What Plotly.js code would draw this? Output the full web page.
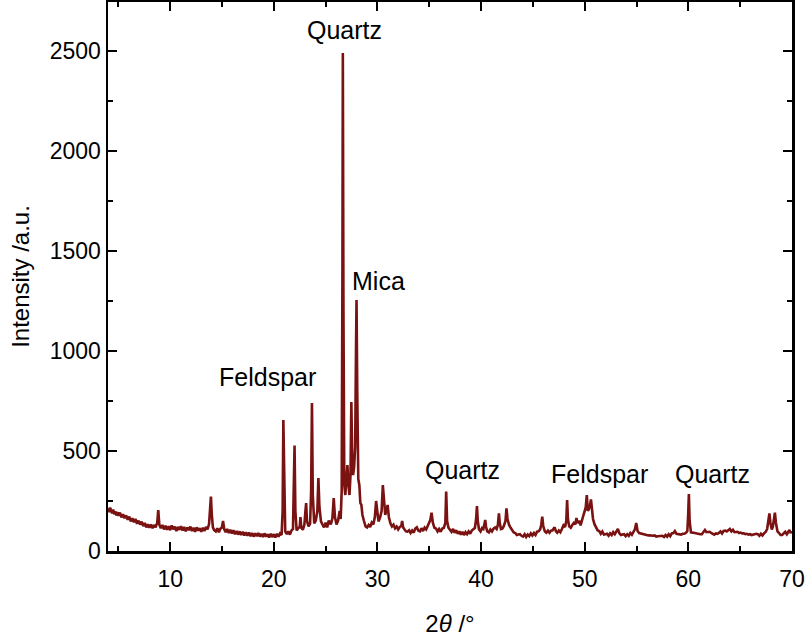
<!DOCTYPE html>
<html>
<head>
<meta charset="utf-8">
<script src="https://cdn.plot.ly/plotly-3.0.1.min.js"></script>
<style>
  body { margin: 0; background: #fff; }
  #graph { width: 807px; height: 637px; }
</style>
</head>
<body>
<div id="graph"></div>
<script>
// XRD pattern, 2theta in degrees
const twoTheta = [
  4.0, 4.1, 4.2, 4.3, 4.4, 4.5, 4.6, 4.7, 4.8, 4.9,
  5.0, 5.15, 5.3, 5.45, 5.6, 5.75, 5.9,
  6.05, 6.2, 6.35, 6.5, 6.65, 6.8, 6.95,
  7.1, 7.25, 7.4, 7.55, 7.7, 7.85, 8.0,
  8.15, 8.3, 8.45, 8.6, 8.75, 8.85, 8.95, 9.1, 9.25,
  9.4, 9.55, 9.7, 9.85,
  10.0, 10.15, 10.3, 10.45, 10.6, 10.75, 10.9,
  11.05, 11.2, 11.35, 11.5, 11.65, 11.8, 11.95,
  12.1, 12.25, 12.4, 12.55, 12.7, 12.85,
  13.0, 13.15, 13.3, 13.45, 13.6, 13.75, 13.85, 13.93, 14.02, 14.12,
  14.25, 14.4, 14.55, 14.7, 14.85, 14.98, 15.1, 15.22,
  15.35, 15.5, 15.65, 15.8, 15.95, 16.1, 16.25, 16.4, 16.55, 16.7, 16.85,
  17.0, 17.15, 17.3, 17.45, 17.6, 17.75, 17.9,
  18.05, 18.2, 18.35, 18.5, 18.65, 18.8, 18.95,
  19.1, 19.25, 19.4, 19.55, 19.7, 19.85,
  20.0, 20.15, 20.3, 20.45, 20.6, 20.75, 20.85, 20.92, 21.0, 21.1,
  21.25, 21.4, 21.55, 21.7, 21.85, 21.93, 22.0, 22.08, 22.2,
  22.35, 22.5, 22.57, 22.65, 22.8, 22.95, 23.05, 23.12, 23.2, 23.35, 23.5, 23.6, 23.68, 23.76, 23.9,
  24.05, 24.2, 24.3, 24.4, 24.55, 24.7, 24.85,
  25.0, 25.15, 25.3, 25.5, 25.65, 25.78, 25.9, 26.05, 26.2, 26.35, 26.45, 26.55, 26.62, 26.66, 26.72, 26.8, 26.9,
  27.0, 27.1, 27.2, 27.3, 27.4, 27.48, 27.56, 27.65, 27.75, 27.85, 27.93, 27.98, 28.05, 28.15, 28.25, 28.35, 28.45, 28.55, 28.7, 28.85,
  29.0, 29.15, 29.3, 29.45, 29.6, 29.75, 29.87, 29.97, 30.1, 30.25, 30.4, 30.52, 30.62, 30.75, 30.85, 30.98, 31.1, 31.25,
  31.4, 31.55, 31.7, 31.85, 32.0, 32.15, 32.3, 32.38, 32.48, 32.6, 32.75, 32.9,
  33.05, 33.2, 33.35, 33.5, 33.65, 33.8, 33.95, 34.1, 34.25, 34.4, 34.55, 34.7, 34.85,
  35.0, 35.1, 35.22, 35.35, 35.5, 35.65, 35.8, 35.95, 36.1, 36.25, 36.4, 36.55, 36.63, 36.72, 36.85,
  37.0, 37.15, 37.3, 37.45, 37.6, 37.75, 37.9,
  38.05, 38.2, 38.35, 38.5, 38.65, 38.8, 38.95,
  39.1, 39.25, 39.4, 39.52, 39.6, 39.68, 39.8, 39.95, 40.1, 40.22, 40.32, 40.4, 40.48, 40.6, 40.75, 40.9,
  41.05, 41.2, 41.35, 41.5, 41.62, 41.72, 41.8, 41.92, 42.05, 42.2, 42.35, 42.45, 42.55, 42.7, 42.85,
  43.0, 43.15, 43.3, 43.45, 43.6, 43.75, 43.9,
  44.05, 44.2, 44.35, 44.5, 44.65, 44.8, 44.95,
  45.1, 45.25, 45.4, 45.55, 45.7, 45.8, 45.9, 46.0, 46.15, 46.3, 46.45, 46.6, 46.75, 46.9,
  47.0, 47.1, 47.22, 47.35, 47.5, 47.65, 47.8, 47.95, 48.1, 48.22, 48.3, 48.38, 48.5, 48.65, 48.8, 48.95,
  49.1, 49.2, 49.3, 49.45, 49.6, 49.75, 49.88, 50.0, 50.1, 50.2, 50.3, 50.4, 50.52, 50.6, 50.7, 50.8, 50.95,
  51.1, 51.25, 51.4, 51.55, 51.7, 51.85, 52.0,
  52.15, 52.3, 52.45, 52.6, 52.75, 52.9, 53.05, 53.2, 53.35, 53.5,
  53.65, 53.8, 53.95, 54.1, 54.25, 54.4, 54.55, 54.7, 54.85, 54.97, 55.1, 55.25,
  55.4, 55.55, 55.7, 55.85, 56.0, 56.15, 56.3, 56.45, 56.6, 56.75, 56.9,
  57.05, 57.2, 57.35, 57.5, 57.65, 57.8, 57.95,
  58.1, 58.25, 58.4, 58.55, 58.7, 58.85, 59.0, 59.15, 59.3, 59.45, 59.6, 59.75,
  59.9, 59.98, 60.05, 60.12, 60.25,
  60.4, 60.55, 60.7, 60.85, 61.0, 61.15,
  61.3, 61.45, 61.6, 61.75, 61.9, 62.05, 62.2,
  62.35, 62.5, 62.65, 62.8, 62.95, 63.1, 63.25,
  63.4, 63.55, 63.7, 63.85, 64.0, 64.15, 64.3,
  64.45, 64.6, 64.75, 64.9, 65.05, 65.2, 65.35,
  65.5, 65.65, 65.8, 65.95, 66.1, 66.25, 66.4,
  66.55, 66.7, 66.85, 67.0, 67.15, 67.3, 67.45, 67.6, 67.72, 67.82, 67.92, 68.05, 68.15, 68.25, 68.35, 68.45, 68.6, 68.75, 68.9,
  69.05, 69.2, 69.35, 69.5, 69.65, 69.75, 69.85, 70.0
];

const intensity = [
  214, 194, 217, 198, 188, 207, 184, 198, 178, 194,
  176, 192, 168, 184, 164, 178, 156,
  172, 148, 164, 144, 160, 136, 152,
  132, 147, 124, 140, 118, 134, 116,
  132, 114, 130, 118, 142, 205, 133, 114, 130,
  108, 126, 106, 124,
  104, 128, 108, 122, 100, 120, 106,
  124, 102, 120, 98, 118, 104, 122,
  100, 116, 96, 118, 102, 114,
  96, 116, 100, 120, 108, 135, 200, 272, 180, 118,
  104, 98, 114, 94, 112, 116, 150, 108,
  94, 110, 90, 106, 88, 104, 84, 100, 82, 98, 80,
  96, 78, 94, 76, 92, 74, 90,
  72, 88, 74, 90, 72, 86, 70,
  88, 72, 84, 68, 86, 70,
  84, 68, 86, 72, 88, 80, 200, 655, 260, 98,
  84, 98, 82, 102, 110, 300, 528, 200, 103,
  114, 120, 170, 116, 106, 132, 200, 240, 150, 123, 137, 300, 740, 280, 138,
  152, 200, 365, 220, 148, 132, 118,
  142, 118, 152, 133, 162, 265, 170, 133, 152, 200, 160, 300, 1400, 2490, 1200, 330, 280,
  350, 430, 330, 280, 380, 745, 480, 380, 420, 520, 1000, 1255, 800, 360, 330, 240, 230, 180, 150, 123,
  118, 130, 120, 142, 133, 170, 250, 190, 148, 167, 200, 330, 240, 180, 200, 230, 170, 138,
  123, 132, 113, 122, 108, 120, 125, 150, 118, 110, 98, 97,
  104, 90, 102, 92, 112, 118, 101, 98, 114, 100, 117, 108, 125,
  140, 155, 192, 140, 116, 112, 98, 110, 96, 112, 115, 140, 297, 150, 116,
  107, 96, 110, 91, 104, 86, 98,
  82, 96, 80, 94, 84, 98, 86,
  102, 108, 115, 160, 225, 150, 108, 98, 115, 110, 130, 155, 120, 98, 93, 107,
  98, 112, 118, 110, 130, 188, 140, 110, 112, 125, 150, 213, 160, 130, 116,
  107, 93, 90, 80, 82, 84, 76,
  72, 84, 70, 82, 74, 88, 78,
  90, 80, 97, 98, 108, 130, 172, 125, 98, 92, 102, 91, 102, 103,
  112, 118, 98, 91, 102, 94, 110, 128, 120, 150, 255, 160, 123, 116, 130, 140,
  133, 165, 140, 152, 128, 150, 180, 200, 220, 280, 200, 210, 230, 258, 190, 160, 133,
  115, 103, 100, 86, 97, 82, 84,
  86, 76, 88, 80, 94, 84, 97, 110, 88, 80,
  82, 84, 74, 84, 76, 90, 81, 95, 110, 140, 100, 90,
  88, 86, 82, 80, 80, 78, 78, 76, 76, 78, 72,
  74, 74, 76, 76, 70, 80, 72,
  84, 74, 88, 90, 100, 86, 84, 82, 82, 86, 86, 90,
  100, 180, 285, 150, 93,
  92, 90, 88, 86, 86, 84,
  84, 92, 105, 94, 94, 96, 90,
  84, 82, 88, 86, 90, 98, 88,
  100, 102, 98, 104, 110, 98, 106,
  94, 94, 96, 90, 92, 88, 88,
  84, 86, 82, 84, 80, 82, 82,
  86, 84, 76, 86, 78, 88, 95, 110, 150, 188, 140, 108, 120, 150, 192, 140, 98, 90, 80,
  80, 88, 96, 84, 100, 105, 93, 94
];

// phase labels
const labelText = ['Quartz', 'Mica', 'Feldspar', 'Quartz', 'Feldspar', 'Quartz'];
const labelX = [26.8, 30.1, 19.4, 38.2, 51.4, 62.3];
const labelY = [2605, 1350, 870, 405, 385, 385];

const font = 'Liberation Sans, Arial, sans-serif';

const trace = {
  x: twoTheta,
  y: intensity,
  type: 'scatter',
  mode: 'lines',
  line: { color: '#7a1212', width: 2.6 },
  hoverinfo: 'skip'
};

const axisStyle = {
  showline: true,
  mirror: 'ticks',
  linecolor: '#000',
  linewidth: 2.5,
  ticks: 'inside',
  ticklen: 9,
  tickwidth: 2,
  tickcolor: '#000',
  showgrid: false,
  zeroline: false,
  tickfont: { family: font, size: 23, color: '#000' }
};

const layout = {
  width: 807,
  height: 637,
  margin: { l: 108, r: 15, t: 2, b: 86 },
  paper_bgcolor: '#fff',
  plot_bgcolor: '#fff',
  showlegend: false,
  xaxis: Object.assign({}, axisStyle, {
    range: [4, 70],
    tick0: 0,
    dtick: 10,
    ticklabelstandoff: 6,
    minor: { dtick: 5, ticks: 'inside', ticklen: 5, tickwidth: 2, tickcolor: '#000' },
    title: { text: '2<i>θ</i> /°', font: { family: font, size: 24, color: '#000' }, standoff: 30 }
  }),
  yaxis: Object.assign({}, axisStyle, {
    range: [0, 2745],
    tick0: 0,
    dtick: 500,
    minor: { dtick: 250, ticks: 'inside', ticklen: 5, tickwidth: 2, tickcolor: '#000' },
    title: { text: 'Intensity /a.u.', font: { family: font, size: 24, color: '#000' }, standoff: 14 }
  }),
  annotations: labelText.map((t, i) => ({
    x: labelX[i],
    y: labelY[i],
    text: t,
    showarrow: false,
    font: { family: font, size: 25, color: '#000' }
  }))
};

Plotly.newPlot('graph', [trace], layout, { displayModeBar: false, staticPlot: true });
</script>
</body>
</html>
